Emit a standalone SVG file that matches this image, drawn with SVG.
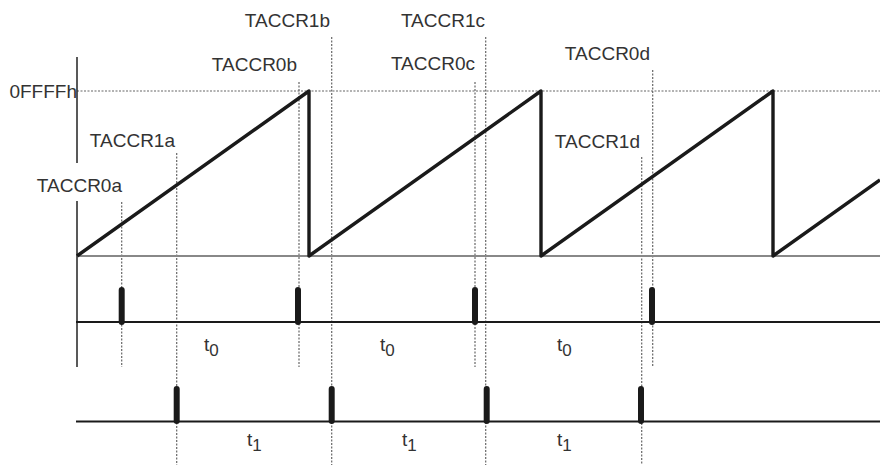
<svg xmlns="http://www.w3.org/2000/svg" width="880" height="465" viewBox="0 0 880 465">
<style>
.lbl{font-family:"Liberation Sans",Arial,sans-serif;font-size:19px;fill:#333;}
.dot{stroke:#666;stroke-width:1.2;stroke-dasharray:2,1.5;fill:none;}
.axis{stroke:#222;stroke-width:1.5;fill:none;}
.base{stroke:#888;stroke-width:2;fill:none;}
.saw{stroke:#1a1a1a;stroke-width:3.4;fill:none;stroke-linejoin:round;}
.sig{stroke:#1a1a1a;stroke-width:2.2;fill:none;}
.pulse{stroke:#1a1a1a;stroke-width:6;stroke-linecap:round;fill:none;}
</style>
<rect width="880" height="465" fill="#fff"/>
<g id="guides">
<line class="dot" x1="77" y1="91" x2="880" y2="91"/>
<line class="dot" x1="121.7" y1="202" x2="121.7" y2="367"/>
<line class="dot" x1="176.7" y1="153" x2="176.7" y2="465"/>
<line class="dot" x1="299" y1="82" x2="299" y2="367"/>
<line class="dot" x1="331.7" y1="37" x2="331.7" y2="465"/>
<line class="dot" x1="475" y1="82" x2="475" y2="367"/>
<line class="dot" x1="485.7" y1="37" x2="485.7" y2="465"/>
<line class="dot" x1="641.7" y1="157" x2="641.7" y2="465"/>
<line class="dot" x1="652.7" y1="70" x2="652.7" y2="367"/>
</g>
<g id="axis">
<line class="axis" x1="77" y1="57" x2="77" y2="163"/>
<line class="axis" x1="77" y1="201" x2="77" y2="367"/>
<line class="base" x1="77" y1="256" x2="880" y2="256"/>
</g>
<g id="sawtooth">
<polyline class="saw" points="77,256 309,91 309,256 541,91 541,256 773,91 773,256 880,180"/>
</g>
<g id="ccr0-signal">
<line class="sig" x1="76" y1="322" x2="880" y2="322"/>
<line class="pulse" x1="121.7" y1="290" x2="121.7" y2="322"/>
<line class="pulse" x1="298" y1="290" x2="298" y2="322"/>
<line class="pulse" x1="475" y1="290" x2="475" y2="322"/>
<line class="pulse" x1="652" y1="290" x2="652" y2="322"/>
</g>
<g id="ccr1-signal">
<line class="sig" x1="76" y1="421.5" x2="880" y2="421.5"/>
<line class="pulse" x1="176.7" y1="389" x2="176.7" y2="421"/>
<line class="pulse" x1="331.7" y1="389" x2="331.7" y2="421"/>
<line class="pulse" x1="486.7" y1="389" x2="486.7" y2="421"/>
<line class="pulse" x1="641" y1="389" x2="641" y2="421"/>
</g>
<g id="labels">
<text class="lbl" x="77" y="98" text-anchor="end">0FFFFh</text>
<text class="lbl" x="122" y="192" text-anchor="end">TACCR0a</text>
<text class="lbl" x="175" y="147" text-anchor="end">TACCR1a</text>
<text class="lbl" x="297" y="71" text-anchor="end">TACCR0b</text>
<text class="lbl" x="330" y="27" text-anchor="end">TACCR1b</text>
<text class="lbl" x="475" y="70" text-anchor="end">TACCR0c</text>
<text class="lbl" x="485" y="27" text-anchor="end">TACCR1c</text>
<text class="lbl" x="640" y="148" text-anchor="end">TACCR1d</text>
<text class="lbl" x="650" y="60" text-anchor="end">TACCR0d</text>
<text class="lbl" x="204" y="351">t<tspan font-size="17" dy="5">0</tspan></text>
<text class="lbl" x="380" y="351">t<tspan font-size="17" dy="5">0</tspan></text>
<text class="lbl" x="557" y="351">t<tspan font-size="17" dy="5">0</tspan></text>
<text class="lbl" x="247" y="446">t<tspan font-size="17" dy="5">1</tspan></text>
<text class="lbl" x="402" y="446">t<tspan font-size="17" dy="5">1</tspan></text>
<text class="lbl" x="557" y="446">t<tspan font-size="17" dy="5">1</tspan></text>
</g>
</svg>
